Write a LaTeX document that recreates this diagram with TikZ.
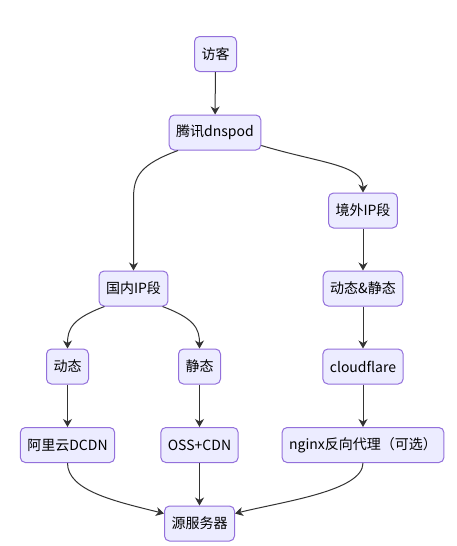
\documentclass[tikz,border=0pt]{standalone}
\usepackage{fontspec}
\setmainfont{Noto Sans CJK SC}
\usepackage{xcolor}
\usepackage{tikz}
\usetikzlibrary{positioning, arrows.meta, calc}
\definecolor{nodefill}{HTML}{ECECFF}
\definecolor{nodeline}{HTML}{9370DB}
\definecolor{edgeline}{HTML}{333333}

\begin{document}
\begin{tikzpicture}[
  x=1pt, y=-1pt,
  flownode/.style={
    draw=nodeline, line width=1pt, rounded corners=5pt, fill=nodefill,
    minimum height=35pt, inner xsep=7pt, font=\fontsize{14pt}{16pt}\selectfont,
    text=black, align=center
  },
  arrow/.style={-{Stealth[length=8pt, width=9pt, inset=2.5pt]}, line width=1pt, edgeline}
]
\fill[white] (0,0) rectangle (457,546);
\useasboundingbox (0,0) rectangle (457,546);

\node[flownode] (visit) at (215.5, 54)  {访客};
\node[flownode] (dns)   at (215, 132.5) {腾讯dnspod};
\node[flownode] (outer) at (363, 210.5) {境外IP段};
\node[flownode] (inner) at (133.5, 288.5) {国内IP段};
\node[flownode] (both)  at (363, 288.5) {动态\&静态};
\node[flownode] (dyn)   at (67.5, 366.5) {动态};
\node[flownode] (sta)   at (199.5, 366.5) {静态};
\node[flownode] (cf)    at (363, 366.5) {cloudflare};
\node[flownode] (ali)   at (67.5, 445) {阿里云DCDN};
\node[flownode] (oss)   at (199.5, 445) {OSS+CDN};
\node[flownode] (ngx)   at (363, 445) {nginx反向代理（可选）};
\node[flownode] (src)   at (199.5, 523.5) {源服务器};

\draw[arrow] (visit) -- (dns);
\draw[arrow] ([xshift=-37pt]dns.south) .. controls +(-38,14) and +(0,-22) .. ++(-44.5,48) -- (inner.north);
\draw[arrow] ([yshift=-13pt]dns.east) .. controls +(60,18) and +(0,-28) .. (outer.north);
\draw[arrow] (outer) -- (both);
\draw[arrow] (both) -- (cf);
\draw[arrow] (cf) -- (ngx);
\draw[arrow] ([xshift=-29pt]inner.south) .. controls +(-32,12) and +(0,-20) .. (dyn.north);
\draw[arrow] ([xshift=29pt]inner.south) .. controls +(32,12) and +(0,-20) .. (sta.north);
\draw[arrow] (dyn) -- (ali);
\draw[arrow] (sta) -- (oss);
\draw[arrow] (oss) -- (src);
\draw[arrow] (ali.south) .. controls +(0,28) and +(-48,-12) .. ([yshift=10pt]src.west);
\draw[arrow] (ngx.south) .. controls +(0,28) and +(48,-12) .. ([yshift=10pt]src.east);

\end{tikzpicture}
\end{document}
